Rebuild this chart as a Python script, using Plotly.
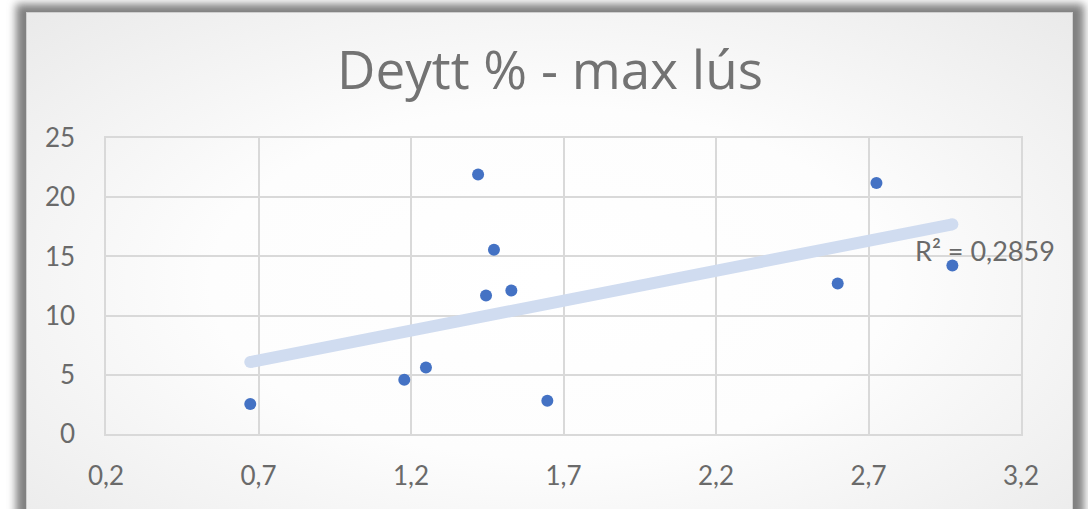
import base64
import numpy as np
import plotly.graph_objects as go

# ---- data ----
x_vals = [0.673, 1.178, 1.249, 1.420, 1.472, 1.446, 1.529, 1.647, 2.599, 2.726, 2.975]
y_vals = [2.54, 4.58, 5.62, 21.92, 15.57, 11.69, 12.12, 2.80, 12.71, 21.19, 14.24]
r2_label = "R² = 0,2859"
title_text = "Deytt % - max lús"
x_ticks = [0.2, 0.7, 1.2, 1.7, 2.2, 2.7, 3.2]
y_ticks = [0, 5, 10, 15, 20, 25]

# linear trend line (least squares)
slope, intercept = np.polyfit(x_vals, y_vals, 1)
tx = [min(x_vals), max(x_vals)]
ty = [slope * v + intercept for v in tx]

W, H = 1088, 509
L, R, T, B = 106, 1088 - 1021, 138, 509 - 434
pw, ph = W - L - R, H - T - B

FONT = "Lato"
GRAY = "#595959"
GRID = "#d9d9d9"

svg = f'''<svg xmlns="http://www.w3.org/2000/svg" width="{W}" height="{H}" viewBox="0 0 {W} {H}">
<defs>
<filter id="b" x="-5%" y="-5%" width="110%" height="110%"><feGaussianBlur stdDeviation="4"/></filter>
<radialGradient id="g" cx="50%" cy="50%" r="72%"><stop offset="0" stop-color="#ffffff"/><stop offset="0.45" stop-color="#fdfdfd"/><stop offset="1" stop-color="#e9e9e9"/></radialGradient>
</defs>
<rect x="0" y="0" width="{W}" height="{H}" fill="#ffffff"/>
<rect x="16" y="4" width="1068" height="560" fill="#808080" filter="url(#b)"/>
<rect x="26.5" y="12.5" width="1046" height="540" fill="url(#g)" stroke="#cfcfcf" stroke-width="1"/>
</svg>'''
src = "data:image/svg+xml;base64," + base64.b64encode(svg.encode()).decode()

fig = go.Figure()
fig.add_trace(go.Scatter(
    x=tx, y=ty, mode="lines+markers",
    line=dict(color="#d0dcf0", width=12),
    marker=dict(color="#d0dcf0", size=12),
    hoverinfo="skip", showlegend=False,
))
fig.add_trace(go.Scatter(
    x=x_vals, y=y_vals, mode="markers",
    marker=dict(color="#4472c4", size=12),
    showlegend=False,
))

fig.add_annotation(
    x=3.083, y=15.5, xref="x", yref="y", text=r2_label, showarrow=False,
    xanchor="center", yanchor="middle",
    font=dict(family=FONT, size=27, color="#6a6a6a"),
)

fig.update_layout(
    width=W, height=H,
    margin=dict(l=L, r=R, t=T, b=B),
    paper_bgcolor="#ffffff",
    plot_bgcolor="rgba(0,0,0,0)",
    separators=",.",
    title=dict(text=title_text, x=550 / W, xanchor="center", y=1 - 70 / H, yanchor="middle",
               xref="container", yref="container",
               font=dict(family="Open Sans", size=53, color="#737373")),
    images=[dict(source=src, xref="paper", yref="paper", x=-L / pw, y=(H - B) / ph,
                 sizex=W / pw, sizey=H / ph, sizing="stretch", xanchor="left", yanchor="top",
                 layer="below")],
    font=dict(family=FONT, color=GRAY),
)
fig.update_xaxes(
    range=[0.2, 3.2], tickvals=x_ticks, tickformat=".1f",
    showgrid=True, gridcolor=GRID, gridwidth=1.5,
    showline=True, linecolor=GRID, linewidth=1.5, mirror=True,
    zeroline=False, ticks="", ticklabelstandoff=18,
    tickfont=dict(family=FONT, size=26, color="#6a6a6a"),
)
fig.update_yaxes(
    range=[0, 25], tickvals=y_ticks,
    showgrid=True, gridcolor=GRID, gridwidth=1.5,
    showline=True, linecolor=GRID, linewidth=1.5, mirror=True,
    zeroline=False, ticks="", ticklabelstandoff=24,
    tickfont=dict(family=FONT, size=26, color="#6a6a6a"),
)

fig.write_html("out.html", config={"displayModeBar": False},
               post_script="document.body.style.margin='0';")
